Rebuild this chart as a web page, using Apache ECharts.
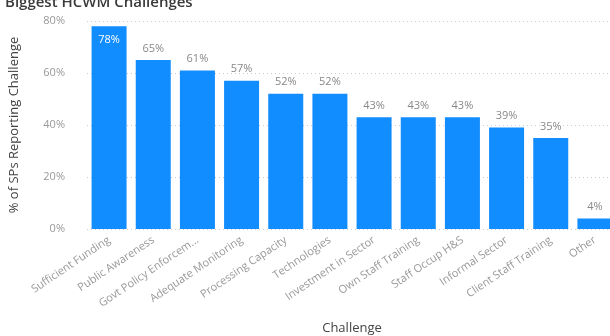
<!DOCTYPE html>
<html><head><meta charset="utf-8">
<script src="https://cdn.jsdelivr.net/npm/echarts@6/dist/echarts.min.js"></script>
<style>html,body{margin:0;padding:0;background:#fff;overflow:hidden}#c{width:610px;height:336px}</style>
</head><body><div id="c"></div>
<script>
const categories = ["Sufficient Funding","Public Awareness","Govt Policy Enforcem...","Adequate Monitoring","Processing Capacity","Technologies","Investment in Sector","Own Staff Training","Staff Occup H&S","Informal Sector","Client Staff Training","Other"];
const values = [78,65,61,57,52,52,43,43,43,39,35,4];
const yTicks = [0,20,40,60,80];

const chart = echarts.init(document.getElementById('c'));
const font = '"Open Sans", "Noto Sans", sans-serif';
chart.setOption({
  animation:false,
  title:{text:'Biggest HCWM Challenges',left:0,top:-10,textStyle:{fontFamily:font,fontSize:15,fontWeight:600,color:'#3a3a3a'}},
  grid:{left:87,top:21,width:530,height:208,containLabel:false,outerBoundsMode:'none'},
  xAxis:{type:'category',data:categories,
    name:'Challenge',nameLocation:'middle',nameGap:93,
    nameTextStyle:{fontFamily:font,fontSize:13,color:'#444'},
    axisLine:{show:false},axisTick:{show:false},
    axisLabel:{interval:0,rotate:34,fontFamily:font,fontSize:11,color:'#999',margin:10}},
  yAxis:{type:'value',min:0,max:80,interval:20,
    name:'% of SPs Reporting Challenge',nameLocation:'middle',nameGap:66,
    nameTextStyle:{fontFamily:font,fontSize:13,fontWeight:500,color:'#444'},
    axisLabel:{formatter:v=>yTicks.includes(v)?v+'%':'',fontFamily:font,fontSize:11,color:'#999',margin:22},
    splitLine:{lineStyle:{type:[1,3],color:'#ccc'}}},
  series:[{type:'bar',data:values.map((v,i)=>i===0?{value:v,label:{position:'insideTop',color:'#fff',distance:8}}:v),
    barWidth:35,itemStyle:{color:'#118DFF'},
    label:{show:true,position:'top',formatter:'{c}%',fontFamily:font,fontSize:11,color:'#888',distance:6}}]
});
</script></body></html>
